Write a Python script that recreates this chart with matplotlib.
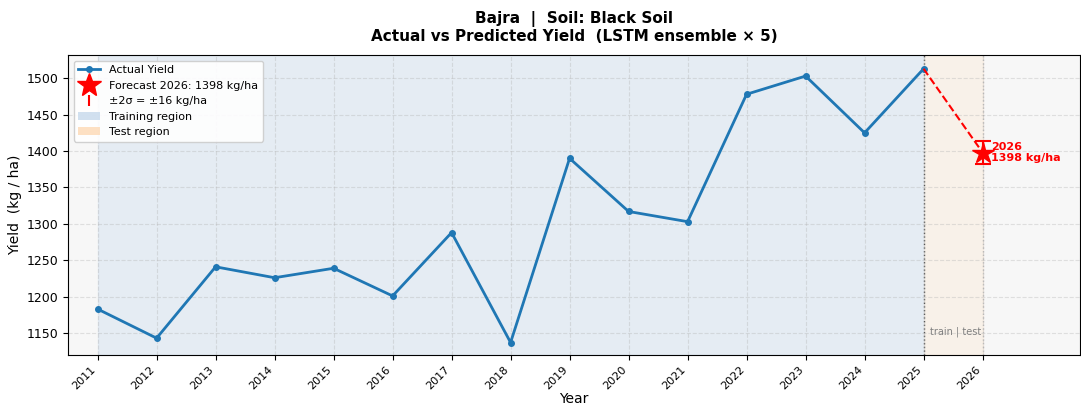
import numpy as np
import matplotlib.pyplot as plt
from matplotlib.patches import Patch

years = [2011, 2012, 2013, 2014, 2015, 2016, 2017, 2018,
         2019, 2020, 2021, 2022, 2023, 2024, 2025]
yield_actual = [1183, 1143, 1241, 1226, 1239, 1201, 1288, 1137,
                1390, 1317, 1303, 1478, 1503, 1425, 1513]
forecast_year = 2026
forecast_val = 1398
forecast_2sigma = 16

crop = "Bajra"
soil = "Black Soil"

fig, ax = plt.subplots(figsize=(10.81, 4.07), dpi=100)
fig.subplots_adjust(left=0.063, right=0.999, top=0.865, bottom=0.128)
ax.set_facecolor("#f7f7f7")

ax.axvspan(years[0], years[-1], color="#c6d9ec", alpha=0.35, zorder=0)
ax.axvspan(years[-1], forecast_year, color="#fdd9b5", alpha=0.2, zorder=0)
ax.axvline(years[-1], color="#555555", ls=":", lw=1.0, zorder=1)
ax.axvline(forecast_year, color="#bbbbbb", ls=":", lw=1.0, zorder=1)

ax.plot(years, yield_actual, "-o", color="#1f77b4", lw=2, ms=4, zorder=3)
ax.plot([years[-1], forecast_year], [yield_actual[-1], forecast_val],
        "--", color="red", lw=1.5, zorder=3)
ax.errorbar(forecast_year, forecast_val, yerr=forecast_2sigma, fmt="none",
            ecolor="red", capsize=6, elinewidth=1.5, capthick=1.5, zorder=4)
ax.plot(forecast_year, forecast_val, "*", color="red", ms=16, zorder=5)
ax.annotate(f"{forecast_year}\n{forecast_val} kg/ha",
            xy=(forecast_year, forecast_val), xytext=(6, 0),
            textcoords="offset points", va="center", ha="left",
            color="red", fontsize=8, fontweight="bold")

ax.text((years[-1] + forecast_year) / 2 + 0.05, 1152, "train | test",
        ha="center", va="center", fontsize=7, color="gray")

ax.set_xlim(2010.5, 2027.65)
ax.set_ylim(1120, 1532)
ax.set_xticks(years + [forecast_year])
ax.set_xticklabels([str(y) for y in years + [forecast_year]],
                   rotation=45, ha="right", fontsize=8)
ax.tick_params(axis="y", labelsize=9)
ax.grid(True, ls="--", alpha=0.35)
ax.set_xlabel("Year", fontsize=10, labelpad=0)
ax.set_ylabel("Yield  (kg / ha)", fontsize=10, labelpad=3)
ax.set_title(f"{crop}  |  Soil: {soil}\nActual vs Predicted Yield  (LSTM ensemble \u00d7 5)",
             fontsize=11, fontweight="bold", pad=10)

handles = [
    plt.Line2D([], [], color="#1f77b4", marker="o", lw=2, ms=4),
    plt.Line2D([], [], color="red", marker="*", ls="none", ms=18),
    ax.errorbar([], [], yerr=[], fmt="none", ecolor="red", capsize=6),
    Patch(facecolor="#c6d9ec", alpha=0.8),
    Patch(facecolor="#fdd9b5", alpha=0.8),
]
labels = ["Actual Yield",
          f"Forecast {forecast_year}: {forecast_val} kg/ha",
          f"\u00b12\u03c3 = \u00b1{forecast_2sigma} kg/ha",
          "Training region", "Test region"]
ax.legend(handles, labels, loc="upper left", fontsize=8, framealpha=0.9)

fig.savefig("out.png", dpi=100)
